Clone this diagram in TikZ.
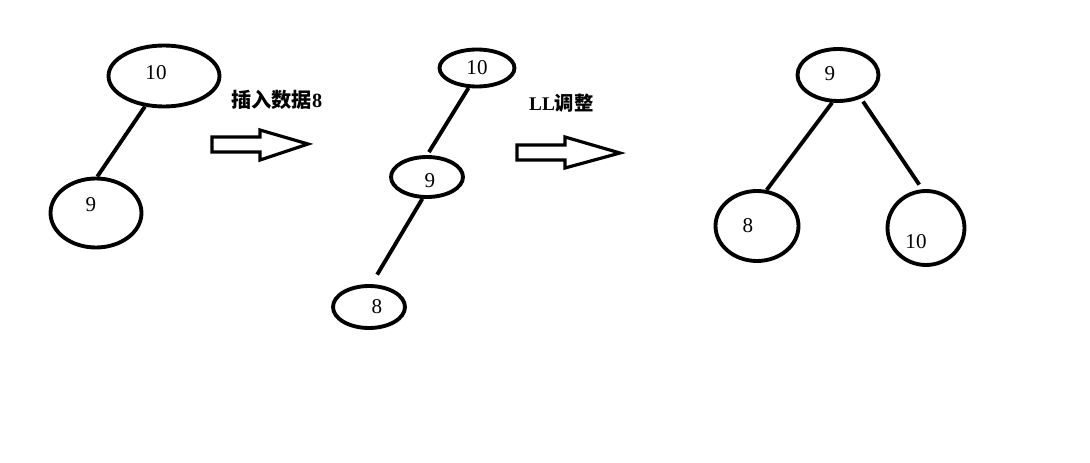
\documentclass[tikz,border=0pt]{standalone}
\usepackage{fontspec}
\setmainfont{Liberation Serif}
\newfontfamily\cjk{Noto Sans CJK SC}
\usetikzlibrary{shapes.geometric}

\tikzset{
  knot/.style={ellipse, draw, line width=2.2pt, inner sep=0pt},
  num/.style={font=\fontsize{12}{14}\selectfont},
  edge/.style={line width=2.2pt},
  blockarrow/.style={line width=1.8pt, line join=miter},
  caption/.style={font=\fontsize{11.5}{13}\selectfont\bfseries}
}

\begin{document}
\begin{tikzpicture}[x=0.02cm,y=-0.02cm]
    \useasboundingbox [fill=white] (0,0) rectangle (1090,463) ;
    % before insertion
    \node [knot, minimum width=2.22cm, minimum height=1.22cm] (a10) at (164,76) {} ;
    \node [knot, minimum width=1.82cm, minimum height=1.38cm] (a9) at (96,213) {} ;
    \node [num] (ta10) at (156,73) {10} ;
    \node [num] (ta9) at (91,205) {9} ;
    \draw [edge] (a10.-122) -- (a9.88) ;
    % after insertion
    \node [knot, minimum width=1.5cm, minimum height=0.74cm] (b10) at (477,68) {} ;
    \node [knot, minimum width=1.44cm, minimum height=0.8cm] (b9) at (427,177) {} ;
    \node [knot, minimum width=1.44cm, minimum height=0.84cm] (b8) at (369,307) {} ;
    \node [num] (tb10) at (477,68) {10} ;
    \node [num] (tb9) at (430,181) {9} ;
    \node [num] (tb8) at (377,307) {8} ;
    \draw [edge] (b10.-113) -- ([shift={(0,-3)}]b9.85) ;
    \draw [edge] (b9.-102) -- ([shift={(0,-10)}]b8.70) ;
    % after LL rotation
    \node [knot, minimum width=1.62cm, minimum height=1.04cm] (c9) at (838,75) {} ;
    \node [knot, minimum width=1.66cm, minimum height=1.4cm] (c8) at (757,226) {} ;
    \node [knot, minimum width=1.54cm, minimum height=1.48cm] (c10) at (926,228) {} ;
    \node [num] (tc9) at (830,74) {9} ;
    \node [num] (tc8) at (748,226) {8} ;
    \node [num] (tc10) at (916,242) {10} ;
    \draw [edge] (c9.-102) -- (c8.75) ;
    \draw [edge] ([shift={(0,4)}]c9.-42) -- ([shift={(0,-5)}]c10.100) ;
    % arrows and captions
    \draw [blockarrow] (212,137) -- (260,137) -- (260,130) -- (308,144) --
      (260,160) -- (260,152) -- (212,152) -- cycle ;
    \draw [blockarrow] (517,145) -- (565,145) -- (565,137) -- (620,153) --
      (565,168) -- (565,160) -- (517,160) -- cycle ;
    \node [caption, anchor=west] (cap1) at (225,100) {{\cjk 插入数据}8} ;
    \node [caption, anchor=west, font=\fontsize{11}{13}\selectfont\bfseries] (cap2) at (523,103) {LL{\cjk 调整}} ;
\end{tikzpicture}
\end{document}
